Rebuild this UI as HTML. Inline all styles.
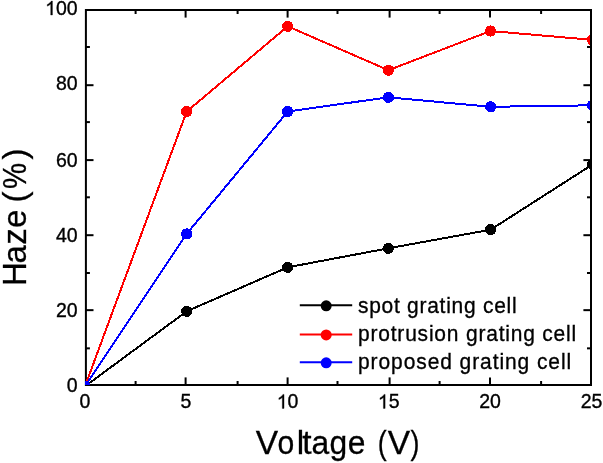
<!DOCTYPE html>
<html><head><meta charset="utf-8"><style>
html,body{margin:0;padding:0;background:#fff;}
body{width:603px;height:463px;overflow:hidden;}
svg{display:block;font-family:"Liberation Sans",sans-serif;will-change:transform;}
.tl{font-size:19.5px;fill:#000;stroke:#000;stroke-width:0.35px;}
.lg{font-size:22.8px;letter-spacing:1.0px;fill:#000;stroke:#000;stroke-width:0.35px;}
.at{font-size:33.5px;fill:#000;stroke:#000;stroke-width:0.3px;}
</style></head><body>
<svg width="603" height="463" viewBox="0 0 603 463">
<defs><clipPath id="c"><rect x="85.0" y="11" width="505.0" height="374.0"/></clipPath></defs>
<g stroke="#000" stroke-width="2"><line x1="185.60" y1="385.00" x2="185.60" y2="377.40"/><line x1="185.60" y1="10.00" x2="185.60" y2="17.60"/><line x1="287.60" y1="385.00" x2="287.60" y2="377.40"/><line x1="287.60" y1="10.00" x2="287.60" y2="17.60"/><line x1="389.60" y1="385.00" x2="389.60" y2="377.40"/><line x1="389.60" y1="10.00" x2="389.60" y2="17.60"/><line x1="490.00" y1="385.00" x2="490.00" y2="377.40"/><line x1="490.00" y1="10.00" x2="490.00" y2="17.60"/><line x1="135.60" y1="385.00" x2="135.60" y2="381.00"/><line x1="135.60" y1="10.00" x2="135.60" y2="14.00"/><line x1="237.60" y1="385.00" x2="237.60" y2="381.00"/><line x1="237.60" y1="10.00" x2="237.60" y2="14.00"/><line x1="337.50" y1="385.00" x2="337.50" y2="381.00"/><line x1="337.50" y1="10.00" x2="337.50" y2="14.00"/><line x1="439.60" y1="385.00" x2="439.60" y2="381.00"/><line x1="439.60" y1="10.00" x2="439.60" y2="14.00"/><line x1="541.10" y1="385.00" x2="541.10" y2="381.00"/><line x1="541.10" y1="10.00" x2="541.10" y2="14.00"/><line x1="85.90" y1="310.15" x2="93.50" y2="310.15"/><line x1="591.00" y1="310.15" x2="583.40" y2="310.15"/><line x1="85.90" y1="235.20" x2="93.50" y2="235.20"/><line x1="591.00" y1="235.20" x2="583.40" y2="235.20"/><line x1="85.90" y1="160.10" x2="93.50" y2="160.10"/><line x1="591.00" y1="160.10" x2="583.40" y2="160.10"/><line x1="85.90" y1="85.20" x2="93.50" y2="85.20"/><line x1="591.00" y1="85.20" x2="583.40" y2="85.20"/><line x1="85.90" y1="348.35" x2="89.90" y2="348.35"/><line x1="591.00" y1="348.35" x2="587.00" y2="348.35"/><line x1="85.90" y1="273.00" x2="89.90" y2="273.00"/><line x1="591.00" y1="273.00" x2="587.00" y2="273.00"/><line x1="85.90" y1="197.30" x2="89.90" y2="197.30"/><line x1="591.00" y1="197.30" x2="587.00" y2="197.30"/><line x1="85.90" y1="122.10" x2="89.90" y2="122.10"/><line x1="591.00" y1="122.10" x2="587.00" y2="122.10"/><line x1="85.90" y1="47.00" x2="89.90" y2="47.00"/><line x1="591.00" y1="47.00" x2="587.00" y2="47.00"/></g>
<rect x="85.90" y="10.00" width="505.10" height="375.00" fill="none" stroke="#000" stroke-width="2"/>
<g clip-path="url(#c)" shape-rendering="crispEdges">
<path d="M85.00,386.30 L186.70,311.30 L287.70,267.30 L388.30,248.30 L490.60,229.70 L592.50,164.50" fill="none" stroke="#000" stroke-width="2" stroke-linejoin="round"/>
<circle cx="85.00" cy="386.30" r="5.6" fill="#000"/>
<circle cx="186.70" cy="311.30" r="5.6" fill="#000"/>
<circle cx="287.70" cy="267.30" r="5.6" fill="#000"/>
<circle cx="388.30" cy="248.30" r="5.6" fill="#000"/>
<circle cx="490.60" cy="229.70" r="5.6" fill="#000"/>
<circle cx="592.50" cy="164.50" r="5.6" fill="#000"/>
<path d="M85.00,386.30 L186.70,111.55 L287.70,26.30 L388.40,70.20 L490.50,31.00 L592.50,39.90" fill="none" stroke="#f00" stroke-width="2" stroke-linejoin="round"/>
<circle cx="85.00" cy="386.30" r="5.6" fill="#f00"/>
<circle cx="186.70" cy="111.55" r="5.6" fill="#f00"/>
<circle cx="287.70" cy="26.30" r="5.6" fill="#f00"/>
<circle cx="388.40" cy="70.20" r="5.6" fill="#f00"/>
<circle cx="490.50" cy="31.00" r="5.6" fill="#f00"/>
<circle cx="592.50" cy="39.90" r="5.6" fill="#f00"/>
<path d="M85.00,386.30 L186.70,233.90 L287.70,111.50 L388.40,97.30 L490.70,106.80 L592.50,105.30" fill="none" stroke="#00f" stroke-width="2" stroke-linejoin="round"/>
<circle cx="85.00" cy="386.30" r="5.6" fill="#00f"/>
<circle cx="186.70" cy="233.90" r="5.6" fill="#00f"/>
<circle cx="287.70" cy="111.50" r="5.6" fill="#00f"/>
<circle cx="388.40" cy="97.30" r="5.6" fill="#00f"/>
<circle cx="490.70" cy="106.80" r="5.6" fill="#00f"/>
<circle cx="592.50" cy="105.30" r="5.6" fill="#00f"/>

</g>
<rect x="590.00" y="9.00" width="2" height="377.00" fill="#000"/>
<g class="tl"><text x="77.7" y="391.80" text-anchor="end">0</text><text x="77.7" y="316.60" text-anchor="end">20</text><text x="77.7" y="241.60" text-anchor="end">40</text><text x="77.7" y="166.50" text-anchor="end">60</text><text x="77.7" y="89.90" text-anchor="end">80</text><text x="77.7" y="15.00" text-anchor="end">00</text><path transform="translate(45.17,15.00) scale(0.009521,-0.009521)" d="M763 0H583V1147Q518 1085 412.5 1023T222 930V1104Q373 1175 486 1276T646 1472H763V0Z" vector-effect="non-scaling-stroke"/><text x="85.00" y="408.4" text-anchor="middle">0</text><text x="186.05" y="408.4" text-anchor="middle">5</text><text x="287.60" y="408.4">0</text><path transform="translate(276.76,408.40) scale(0.009521,-0.009521)" d="M763 0H583V1147Q518 1085 412.5 1023T222 930V1104Q373 1175 486 1276T646 1472H763V0Z" vector-effect="non-scaling-stroke"/><text x="388.70" y="408.4">5</text><path transform="translate(377.86,408.40) scale(0.009521,-0.009521)" d="M763 0H583V1147Q518 1085 412.5 1023T222 930V1104Q373 1175 486 1276T646 1472H763V0Z" vector-effect="non-scaling-stroke"/><text x="490.00" y="408.4" text-anchor="middle">20</text><text x="591.50" y="408.4" text-anchor="middle">25</text></g>
<g><line x1="299.8" y1="305.3" x2="352.2" y2="305.3" stroke="#000" stroke-width="2"/><circle cx="326.2" cy="305.80" r="5.5" fill="#000"/><text transform="translate(358.0,313.30) scale(0.92,1)" class="lg" style="letter-spacing:0.8px">spot grating cell</text><line x1="299.8" y1="334.4" x2="352.2" y2="334.4" stroke="#f00" stroke-width="2"/><circle cx="326.2" cy="334.90" r="5.5" fill="#f00"/><text transform="translate(358.0,341.20) scale(0.92,1)" class="lg" style="letter-spacing:0.88px">protrusion grating cell</text><line x1="299.8" y1="362.3" x2="352.2" y2="362.3" stroke="#00f" stroke-width="2"/><circle cx="326.2" cy="362.80" r="5.5" fill="#00f"/><text transform="translate(358.0,368.80) scale(0.92,1)" class="lg" style="letter-spacing:1.01px">proposed grating cell</text></g>
<g class="at"><text transform="translate(266.85,454.2) scale(1,1)" text-anchor="middle">V</text><text transform="translate(285.95,454.2) scale(0.9,1)" text-anchor="middle">o</text><text transform="translate(300.45,454.2) scale(1,1)" text-anchor="middle">l</text><text transform="translate(306.95,454.2) scale(1,1)" text-anchor="middle">t</text><text transform="translate(320.30,454.2) scale(0.95,1)" text-anchor="middle">a</text><text transform="translate(338.35,454.2) scale(0.95,1)" text-anchor="middle">g</text><text transform="translate(356.65,454.2) scale(0.95,1)" text-anchor="middle">e</text><text transform="translate(382.30,454.2) scale(0.8,1)" text-anchor="middle">(</text><text transform="translate(398.90,454.2) scale(1,1)" text-anchor="middle">V</text><text transform="translate(415.05,454.2) scale(0.8,1)" text-anchor="middle">)</text></g>
<g class="at" style="font-size:33px"><text transform="translate(26.0,153.90) rotate(-90)" text-anchor="middle">)</text><text transform="translate(26.0,176.05) rotate(-90) scale(0.89,1)" text-anchor="middle">%</text><text transform="translate(26.0,197.00) rotate(-90)" text-anchor="middle">(</text><text transform="translate(26.0,218.95) rotate(-90)" text-anchor="middle">e</text><text transform="translate(26.0,236.40) rotate(-90)" text-anchor="middle">z</text><text transform="translate(26.0,254.30) rotate(-90)" text-anchor="middle">a</text><text transform="translate(26.0,274.20) rotate(-90)" text-anchor="middle">H</text></g>
</svg>
</body></html>
